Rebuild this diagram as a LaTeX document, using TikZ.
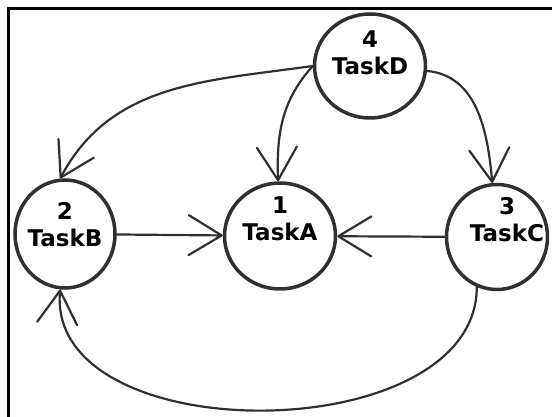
\documentclass[tikz,border=0pt]{standalone}
\usepackage{fontspec}
\setmainfont{DejaVu Sans}
\usepackage{tikz}
\usetikzlibrary{arrows.meta,shapes.geometric}
\definecolor{ink}{HTML}{303030}

\begin{document}
\begin{tikzpicture}[x=1pt,y=1pt,
  task/.style={ellipse,draw=ink,line width=3.5pt,inner sep=0pt},
  tasktext/.style={align=center,inner sep=0pt,font=\bfseries\fontsize{23}{27}\selectfont},
  dep/.style={draw=ink,line width=2.2pt,line cap=round,
    -{Straight Barb[length=33pt,width=40pt,round]}}]
\useasboundingbox (0,0) rectangle (552,417);
\draw[line width=3pt] (8,0) -- (8,408) -- (552,408);
\node[task,minimum width=111pt,minimum height=106pt] (taskA) at (280,181) {};
\node[task,minimum width=100pt,minimum height=108pt] (taskB) at (65,183) {};
\node[task,minimum width=101pt,minimum height=105pt] (taskC) at (497,180) {};
\node[task,minimum width=111pt,minimum height=104pt] (taskD) at (370,351) {};
\node[tasktext] (textA) at (280,198) {1\\TaskA};
\node[tasktext] (textB) at (65,192) {2\\TaskB};
\node[tasktext] (textC) at (507,197) {3\\TaskC};
\node[tasktext] (textD) at (370,364) {4\\TaskD};
\draw[dep] (taskB) -- (taskA);
\draw[dep] (taskC) -- (taskA);
\draw[dep] (taskD.180) to[out=228,in=92] (taskA);
\draw[dep] (taskD.180) to[out=188,in=62] (taskB.95);
\draw[dep] (taskD.-5) to[out=-5,in=95] (taskC);
\draw[dep] (taskC.-112) to[out=-90,in=-95] (taskB);
\end{tikzpicture}
\end{document}
